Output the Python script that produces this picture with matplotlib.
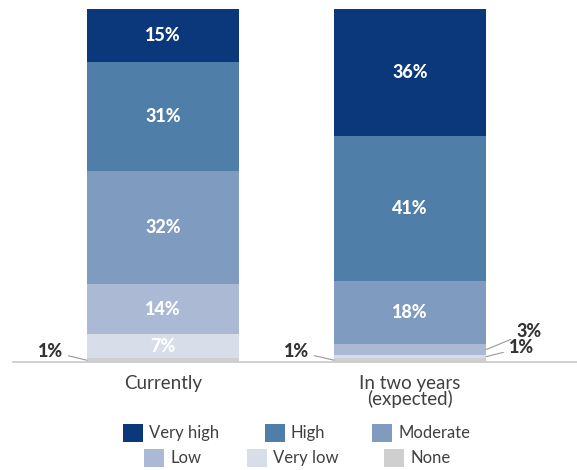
import matplotlib.pyplot as plt
from matplotlib.patches import Rectangle

plt.rcParams['font.family'] = ['Lato', 'DejaVu Sans']

categories = ['Currently', 'In two years\n(expected)']
levels = ['None', 'Very low', 'Low', 'Moderate', 'High', 'Very high']
values = {
    'None': [1, 1],
    'Very low': [7, 1],
    'Low': [14, 3],
    'Moderate': [32, 18],
    'High': [31, 41],
    'Very high': [15, 36],
}
colors = {
    'None': '#cfcfcf',
    'Very low': '#d7dde9',
    'Low': '#abb9d4',
    'Moderate': '#7f9bbf',
    'High': '#4f7ea8',
    'Very high': '#0b387b',
}

W, H = 577, 470
fig = plt.figure(figsize=(W / 100, H / 100), dpi=100)
ax = fig.add_axes([13 / W, (H - 362) / H, 564 / W, 353 / H])

x = [0, 1]
bottoms = [0, 0]
mids = {}
for lev in levels:
    v = values[lev]
    ax.bar(x, v, bottom=bottoms, width=0.615, color=colors[lev], linewidth=0)
    mids[lev] = [b + vv / 2 for b, vv in zip(bottoms, v)]
    bottoms = [b + vv for b, vv in zip(bottoms, v)]

ax.set_xlim(-0.607, 1.676)
ax.set_ylim(0, 100)
for s in ['top', 'right', 'left']:
    ax.spines[s].set_visible(False)
ax.spines['bottom'].set_color('#c8c8c8')
ax.spines['bottom'].set_linewidth(1.2)
ax.set_yticks([])
ax.set_xticks(x)
ax.set_xticklabels(categories, fontsize=13.5, color='#404040', linespacing=0.92)
ax.tick_params(axis='x', length=0, pad=9)

# labels inside the bars
for lev in levels:
    for i in x:
        v = values[lev][i]
        if v >= 5:
            ax.text(i, mids[lev][i], f'{v}%', ha='center', va='center',
                    color='white', fontsize=13, fontweight='black')

# small segments labelled outside with leader lines
outside = [
    (0, 'None', -0.405, 3.0, 'left'),
    (1, 'None', -0.41, 3.0, 'left'),
    (1, 'Low', 0.43, 8.5, 'right'),
    (1, 'Very low', 0.40, 4.0, 'right'),
]
for i, lev, dx, ytxt, side in outside:
    v = values[lev][i]
    edge = i - 0.3075 if side == 'left' else i + 0.3075
    tx = i + dx
    ax.annotate(f'{v}%', xy=(edge, mids[lev][i]), xytext=(tx, ytxt),
                ha='right' if side == 'left' else 'left', va='center',
                fontsize=13, fontweight='black', color='#333333',
                arrowprops=dict(arrowstyle='-', color='#999999', lw=0.8,
                                shrinkA=2, shrinkB=0))

# legend, two centred rows
rows = [
    [('Very high', 123), ('High', 265), ('Moderate', 372)],
    [('Low', 144), ('Very low', 247), ('None', 384)],
]
row_y = [433, 458]
for row, yc in zip(rows, row_y):
    for lev, px in row:
        fig.add_artist(Rectangle((px / W, (H - yc - 9) / H), 20 / W, 18 / H,
                                 transform=fig.transFigure, color=colors[lev],
                                 linewidth=0))
        fig.text((px + 26) / W, (H - yc) / H, lev, ha='left', va='center',
                 fontsize=12, color='#404040')

fig.savefig('out.png', dpi=100)
